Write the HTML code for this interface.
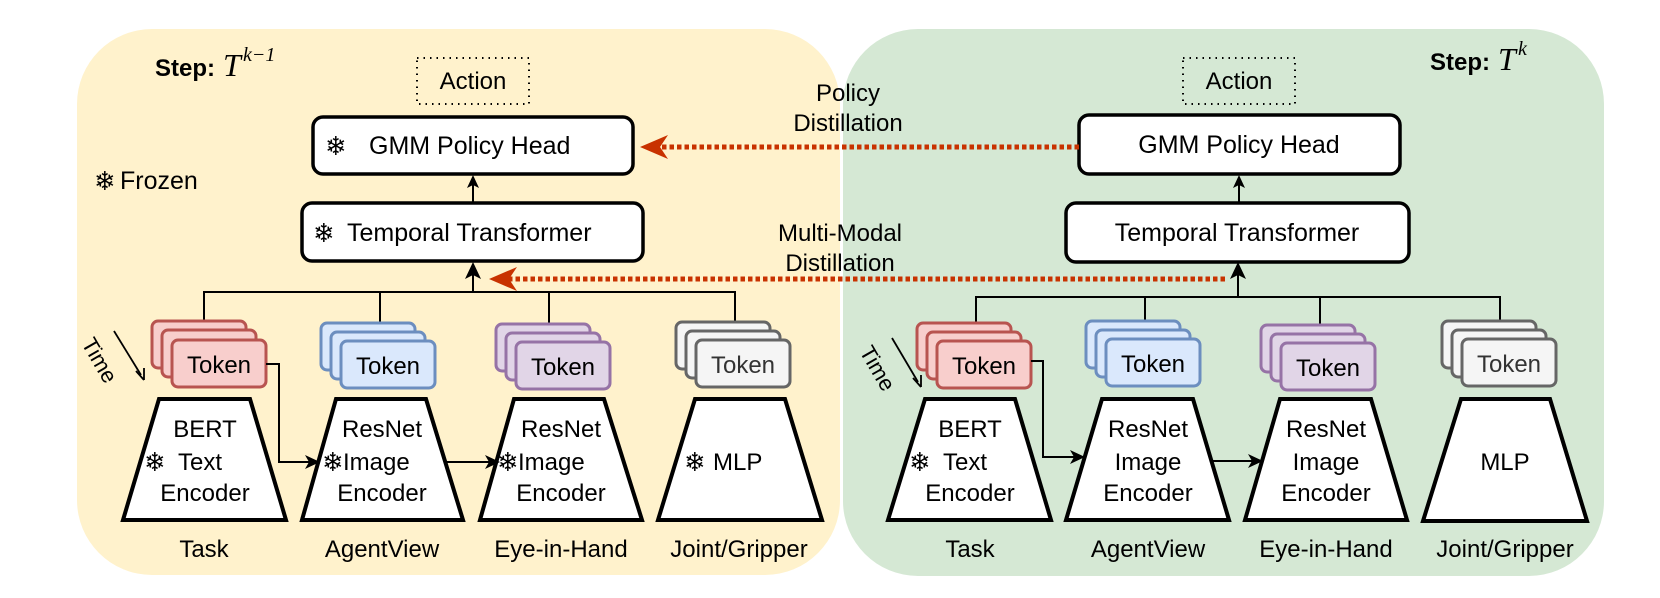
<!DOCTYPE html>
<html><head><meta charset="utf-8">
<style>
html,body{margin:0;padding:0;background:#fff;}
svg{display:block;}
text{font-family:"Liberation Sans","DejaVu Sans",sans-serif;fill:#000;}
.t{font-size:24px;}
.sf{font-family:"DejaVu Sans",sans-serif;font-size:26px;}
</style></head>
<body>
<svg width="1660" height="598" viewBox="0 0 1660 598" xmlns="http://www.w3.org/2000/svg">
<!-- panels -->
<rect x="77" y="29" width="763" height="546" rx="75" fill="#fff2cc"/>
<rect x="843" y="29" width="761" height="547" rx="75" fill="#d5e8d4"/>

<!-- Step labels -->
<text x="155" y="76" style="font-size:24px;font-weight:bold">Step:</text>
<text x="223" y="76" style="font-family:'Liberation Serif',serif;font-style:italic;font-size:32px">T</text>
<text x="243" y="61" style="font-family:'Liberation Serif',serif;font-style:italic;font-size:20px">k−1</text>
<text x="1430" y="70" style="font-size:24px;font-weight:bold">Step:</text>
<text x="1498" y="70" style="font-family:'Liberation Serif',serif;font-style:italic;font-size:32px">T</text>
<text x="1518" y="55" style="font-family:'Liberation Serif',serif;font-style:italic;font-size:20px">k</text>

<!-- Frozen legend -->
<text x="94" y="190" class="sf">❄</text>
<text x="120" y="189" class="t" style="font-size:25px">Frozen</text>

<!-- Action boxes -->
<rect x="417" y="58" width="112" height="46" fill="none" stroke="#000" stroke-width="2" stroke-dasharray="1.5 5"/>
<text x="473" y="89" class="t" text-anchor="middle">Action</text>
<rect x="1183" y="58" width="112" height="46" fill="none" stroke="#000" stroke-width="2" stroke-dasharray="1.5 5"/>
<text x="1239" y="89" class="t" text-anchor="middle">Action</text>

<!-- GMM boxes -->
<rect x="313" y="117" width="320" height="57" rx="10" fill="#fff" stroke="#000" stroke-width="3.5"/>
<text x="325" y="155" class="sf">❄</text>
<text x="369" y="154" class="t" style="font-size:25px">GMM Policy Head</text>
<rect x="1079" y="115" width="321" height="59" rx="10" fill="#fff" stroke="#000" stroke-width="3.5"/>
<text x="1239" y="153" class="t" text-anchor="middle" style="font-size:25px">GMM Policy Head</text>

<!-- Temporal boxes -->
<rect x="302" y="203" width="341" height="58" rx="10" fill="#fff" stroke="#000" stroke-width="3.5"/>
<text x="313" y="242" class="sf">❄</text>
<text x="347" y="241" class="t" style="font-size:25px">Temporal Transformer</text>
<rect x="1066" y="203" width="343" height="59" rx="10" fill="#fff" stroke="#000" stroke-width="3.5"/>
<text x="1237" y="241" class="t" text-anchor="middle" style="font-size:25px">Temporal Transformer</text>

<!-- vertical arrows between boxes -->
<line x1="473" y1="202" x2="473" y2="184" stroke="#000" stroke-width="2"/>
<path d="M473 175 L467 188 L473 185 L479 188 Z" fill="#000"/>
<line x1="1239" y1="202" x2="1239" y2="184" stroke="#000" stroke-width="2"/>
<path d="M1239 175 L1233 188 L1239 185 L1245 188 Z" fill="#000"/>

<!-- buses -->
<polyline points="204,334 204,292 735,292 735,334" fill="none" stroke="#000" stroke-width="2"/>
<line x1="380" y1="292" x2="380" y2="334" stroke="#000" stroke-width="2"/>
<line x1="549" y1="292" x2="549" y2="334" stroke="#000" stroke-width="2"/>
<line x1="473" y1="292" x2="473" y2="272" stroke="#000" stroke-width="2"/>
<path d="M473 262 L465 279 L473 275 L481 279 Z" fill="#000"/>
<polyline points="976,334 976,297 1500,297 1500,334" fill="none" stroke="#000" stroke-width="2"/>
<line x1="1145" y1="297" x2="1145" y2="334" stroke="#000" stroke-width="2"/>
<line x1="1320" y1="297" x2="1320" y2="334" stroke="#000" stroke-width="2"/>
<line x1="1238" y1="297" x2="1238" y2="272" stroke="#000" stroke-width="2"/>
<path d="M1238 262 L1230 279 L1238 275 L1246 279 Z" fill="#000"/>

<!-- distillation arrows -->
<line x1="1079" y1="147" x2="655" y2="147" stroke="#c83200" stroke-width="5" stroke-dasharray="4.5 3"/>
<path d="M640 147 L668 135 L660 147 L668 159 Z" fill="#c83200"/>
<line x1="1225" y1="279" x2="504" y2="279" stroke="#c83200" stroke-width="5" stroke-dasharray="4.5 3"/>
<path d="M489 279 L517 267 L509 279 L517 291 Z" fill="#c83200"/>
<text x="848" y="101" class="t" text-anchor="middle">Policy</text>
<text x="848" y="131" class="t" text-anchor="middle">Distillation</text>
<text x="840" y="241" class="t" text-anchor="middle">Multi-Modal</text>
<text x="840" y="271" class="t" text-anchor="middle">Distillation</text>

<!-- Token stacks -->
<g stroke-width="3">
<g fill="#f8cecc" stroke="#b85450">
<rect x="152" y="321" width="94" height="47" rx="6"/><rect x="162" y="330" width="94" height="47" rx="6"/><rect x="172" y="340" width="94" height="47" rx="6"/></g>
<g fill="#dae8fc" stroke="#6c8ebf">
<rect x="321" y="323" width="94" height="47" rx="6"/><rect x="331" y="332" width="94" height="47" rx="6"/><rect x="341" y="341" width="94" height="47" rx="6"/></g>
<g fill="#e1d5e7" stroke="#9673a6">
<rect x="496" y="324" width="94" height="47" rx="6"/><rect x="506" y="333" width="94" height="47" rx="6"/><rect x="516" y="342" width="94" height="47" rx="6"/></g>
<g fill="#f5f5f5" stroke="#666">
<rect x="676" y="322" width="94" height="47" rx="6"/><rect x="686" y="331" width="94" height="47" rx="6"/><rect x="696" y="340" width="94" height="47" rx="6"/></g>
<g fill="#f8cecc" stroke="#b85450">
<rect x="917" y="323" width="94" height="47" rx="6"/><rect x="927" y="332" width="94" height="47" rx="6"/><rect x="937" y="341" width="94" height="47" rx="6"/></g>
<g fill="#dae8fc" stroke="#6c8ebf">
<rect x="1086" y="321" width="94" height="47" rx="6"/><rect x="1096" y="330" width="94" height="47" rx="6"/><rect x="1106" y="339" width="94" height="47" rx="6"/></g>
<g fill="#e1d5e7" stroke="#9673a6">
<rect x="1261" y="325" width="94" height="47" rx="6"/><rect x="1271" y="334" width="94" height="47" rx="6"/><rect x="1281" y="343" width="94" height="47" rx="6"/></g>
<g fill="#f5f5f5" stroke="#666">
<rect x="1442" y="321" width="94" height="47" rx="6"/><rect x="1452" y="330" width="94" height="47" rx="6"/><rect x="1462" y="339" width="94" height="47" rx="6"/></g>
</g>
<text x="219" y="373" class="t" text-anchor="middle">Token</text>
<text x="388" y="374" class="t" text-anchor="middle">Token</text>
<text x="563" y="375" class="t" text-anchor="middle">Token</text>
<text x="743" y="373" class="t" text-anchor="middle" style="fill:#333">Token</text>
<text x="984" y="374" class="t" text-anchor="middle">Token</text>
<text x="1153" y="372" class="t" text-anchor="middle">Token</text>
<text x="1328" y="376" class="t" text-anchor="middle">Token</text>
<text x="1509" y="372" class="t" text-anchor="middle" style="fill:#333">Token</text>

<!-- Time -->
<text transform="translate(100,360) rotate(60)" class="t" text-anchor="middle" style="font-size:22px" y="8">Time</text>
<line x1="114" y1="331" x2="141" y2="375" stroke="#000" stroke-width="1.8"/>
<path d="M144 380 L136 371 M144 380 L144 368" stroke="#000" stroke-width="1.8" fill="none"/>
<text transform="translate(878,368) rotate(60)" class="t" text-anchor="middle" style="font-size:22px" y="8">Time</text>
<line x1="892" y1="338" x2="918" y2="382" stroke="#000" stroke-width="1.8"/>
<path d="M921 387 L913 378 M921 387 L921 375" stroke="#000" stroke-width="1.8" fill="none"/>

<!-- trapezoids -->
<g fill="#fff" stroke="#000" stroke-width="4" stroke-linejoin="miter">
<polygon points="159,399 250,399 286,520 123,520"/>
<polygon points="336,399 426,399 463,520 302,520"/>
<polygon points="514,399 604,399 642,520 480,520"/>
<polygon points="695,399 785,399 822,520 658,520"/>
<polygon points="925,399 1015,399 1051,520 888,520"/>
<polygon points="1102,399 1193,399 1229,520 1066,520"/>
<polygon points="1280,399 1371,399 1407,520 1245,520"/>
<polygon points="1461,399 1550,399 1587,521 1423,521"/>
</g>

<!-- encoder-to-encoder arrows -->
<polyline points="266,364 279,364 279,462 310,462" fill="none" stroke="#000" stroke-width="2"/>
<path d="M320 462 L305 455 L309 462 L305 469 Z" fill="#000"/>
<line x1="446" y1="462" x2="490" y2="462" stroke="#000" stroke-width="2"/>
<path d="M500 462 L485 455 L489 462 L485 469 Z" fill="#000"/>
<polyline points="1031,361 1043,361 1043,457 1075,457" fill="none" stroke="#000" stroke-width="2"/>
<path d="M1085 457 L1070 450 L1074 457 L1070 464 Z" fill="#000"/>
<line x1="1212" y1="461" x2="1253" y2="461" stroke="#000" stroke-width="2"/>
<path d="M1263 461 L1248 454 L1252 461 L1248 468 Z" fill="#000"/>

<!-- encoder texts left -->
<text x="205" y="437" class="t" text-anchor="middle">BERT</text>
<text x="144" y="471" class="sf">❄</text>
<text x="178" y="470" class="t">Text</text>
<text x="205" y="501" class="t" text-anchor="middle">Encoder</text>

<text x="382" y="437" class="t" text-anchor="middle">ResNet</text>
<text x="322" y="471" class="sf">❄</text>
<text x="343" y="470" class="t">Image</text>
<text x="382" y="501" class="t" text-anchor="middle">Encoder</text>

<text x="561" y="437" class="t" text-anchor="middle">ResNet</text>
<text x="497" y="471" class="sf">❄</text>
<text x="518" y="470" class="t">Image</text>
<text x="561" y="501" class="t" text-anchor="middle">Encoder</text>

<text x="684" y="471" class="sf">❄</text>
<text x="713" y="470" class="t">MLP</text>

<!-- encoder texts right -->
<text x="970" y="437" class="t" text-anchor="middle">BERT</text>
<text x="909" y="471" class="sf">❄</text>
<text x="943" y="470" class="t">Text</text>
<text x="970" y="501" class="t" text-anchor="middle">Encoder</text>
<text x="1148" y="437" class="t" text-anchor="middle">ResNet</text>
<text x="1148" y="470" class="t" text-anchor="middle">Image</text>
<text x="1148" y="501" class="t" text-anchor="middle">Encoder</text>
<text x="1326" y="437" class="t" text-anchor="middle">ResNet</text>
<text x="1326" y="470" class="t" text-anchor="middle">Image</text>
<text x="1326" y="501" class="t" text-anchor="middle">Encoder</text>
<text x="1505" y="470" class="t" text-anchor="middle">MLP</text>

<!-- bottom labels -->
<text x="204" y="557" class="t" text-anchor="middle">Task</text>
<text x="382" y="557" class="t" text-anchor="middle">AgentView</text>
<text x="561" y="557" class="t" text-anchor="middle">Eye-in-Hand</text>
<text x="739" y="557" class="t" text-anchor="middle">Joint/Gripper</text>
<text x="970" y="557" class="t" text-anchor="middle">Task</text>
<text x="1148" y="557" class="t" text-anchor="middle">AgentView</text>
<text x="1326" y="557" class="t" text-anchor="middle">Eye-in-Hand</text>
<text x="1505" y="557" class="t" text-anchor="middle">Joint/Gripper</text>
</svg>
</body></html>
